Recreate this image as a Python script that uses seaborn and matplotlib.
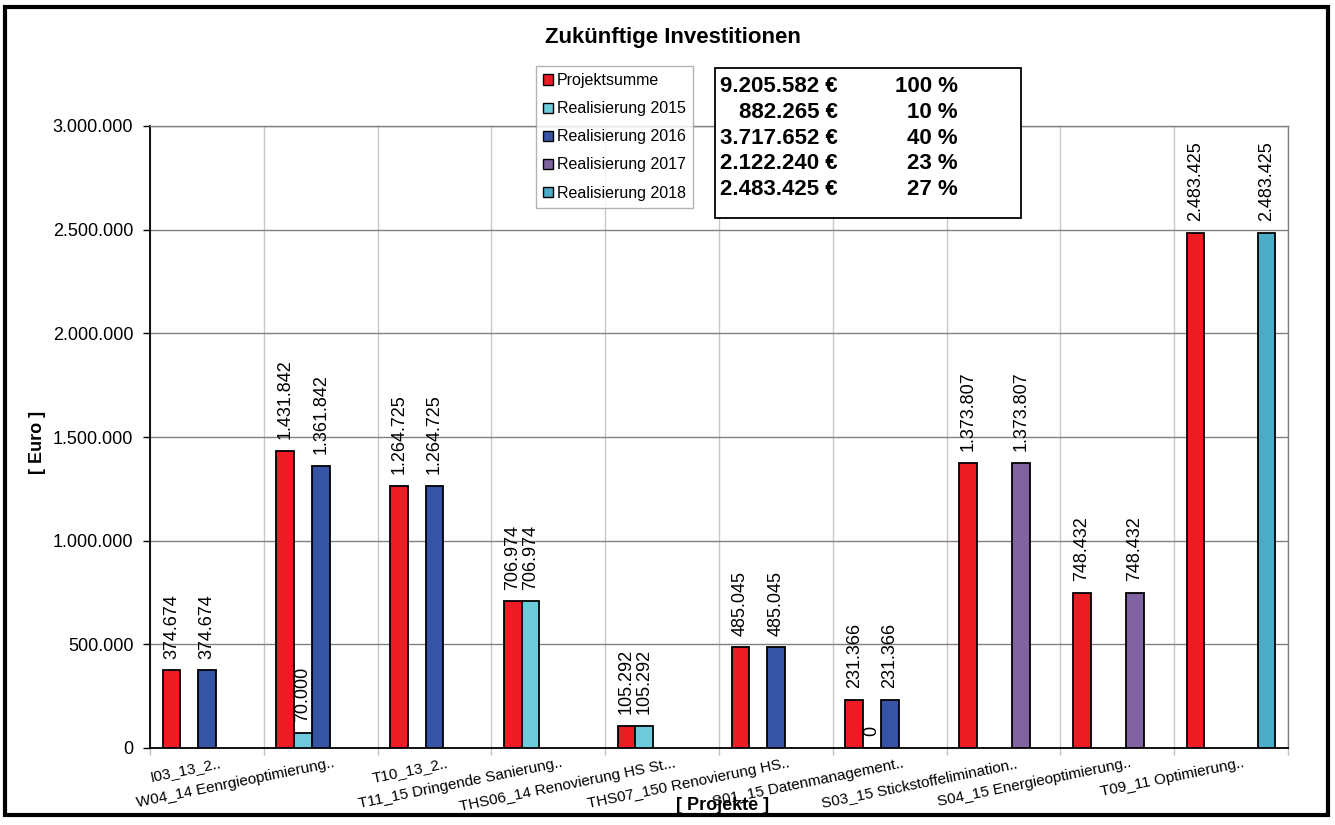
import matplotlib
matplotlib.use("Agg")
import matplotlib.pyplot as plt
import numpy as np
import pandas as pd
import seaborn as sns
from matplotlib.patches import Patch, Rectangle
from matplotlib.transforms import ScaledTranslation

# --- data ---
projects = [
    "I03_13_2..",
    "W04_14 Eenrgieoptimierung..",
    "T10_13_2..",
    "T11_15 Dringende Sanierung..",
    "THS06_14 Renovierung HS St...",
    "THS07_150 Renovierung HS..",
    "S01_15 Datenmanagement..",
    "S03_15 Stickstoffelimination..",
    "S04_15 Energieoptimierung..",
    "T09_11 Optimierung..",
]
series = [
    "Projektsumme",
    "Realisierung 2015",
    "Realisierung 2016",
    "Realisierung 2017",
    "Realisierung 2018",
]
nan = np.nan
projektsumme = [374674, 1431842, 1264725, 706974, 105292, 485045, 231366, 1373807, 748432, 2483425]
real_2015 = [nan, 70000, nan, 706974, 105292, nan, 0, nan, nan, nan]
real_2016 = [374674, 1361842, 1264725, nan, nan, 485045, 231366, nan, nan, nan]
real_2017 = [nan, nan, nan, nan, nan, nan, nan, 1373807, 748432, nan]
real_2018 = [nan, nan, nan, nan, nan, nan, nan, nan, nan, 2483425]

summary_amounts = [9205582, 882265, 3717652, 2122240, 2483425]
summary_shares = [100, 10, 40, 23, 27]

colors = {
    "Projektsumme": "#ED1C24",
    "Realisierung 2015": "#6ECBDB",
    "Realisierung 2016": "#3654A5",
    "Realisierung 2017": "#8064A2",
    "Realisierung 2018": "#4BACC6",
}


def de_fmt(v: float) -> str:
    """German thousands separator."""
    return f"{v:,.0f}".replace(",", ".")


values = [projektsumme, real_2015, real_2016, real_2017, real_2018]
rows = []
for name, vals in zip(series, values):
    for proj, v in zip(projects, vals):
        rows.append({"Projekt": proj, "Serie": name, "Euro": v})
df = pd.DataFrame(rows).dropna()

sns.set_theme(style="white")
plt.rcParams["font.family"] = ["Liberation Sans", "DejaVu Sans"]
plt.rcParams["text.color"] = "black"
plt.rcParams["axes.labelcolor"] = "black"
plt.rcParams["xtick.color"] = "black"
plt.rcParams["ytick.color"] = "black"

fig = plt.figure(figsize=(13.35, 8.25), dpi=100)
ax = fig.add_axes([150 / 1335, 77 / 825, 1138 / 1335, 622 / 825])

sns.barplot(
    data=df, x="Projekt", y="Euro", hue="Serie",
    order=projects, hue_order=series, palette=colors,
    width=0.78, saturation=1, errorbar=None,
    edgecolor="black", linewidth=1.3, legend=False, ax=ax, zorder=3,
)

for cont in ax.containers:
    ax.bar_label(
        cont, labels=[de_fmt(b.get_height()) for b in cont],
        rotation=90, padding=8.5, fontsize=13, color="black",
    )

ax.set_xlim(-0.5, len(projects) - 0.5)
ax.set_ylim(0, 3_000_000)
yt = np.arange(0, 3_000_001, 500_000)
ax.set_yticks(yt)
ax.set_yticklabels([de_fmt(v) for v in yt], fontsize=13, color="black")
ax.tick_params(axis="y", length=5, width=1, color="black", direction="out", pad=7, left=True)

ax.set_xticks(range(len(projects)))
ax.set_xticklabels(projects, fontsize=11, rotation=11.5, ha="right",
                   rotation_mode="anchor", color="black")
ax.set_xticks(np.arange(-0.5, len(projects), 1), minor=True)
ax.tick_params(axis="x", which="major", length=0, pad=6)
ax.tick_params(axis="x", which="minor", length=5, color="#BFBFBF", width=1, bottom=True)
shift = ScaledTranslation(12 / 100, 0, fig.dpi_scale_trans)
for lab in ax.get_xticklabels():
    lab.set_transform(lab.get_transform() + shift)

ax.set_axisbelow(True)
ax.grid(axis="y", which="major", color="#808080", lw=1)
ax.grid(axis="x", which="minor", color="#C8C8C8", lw=1)
ax.grid(axis="x", which="major", visible=False)
ax.set_xlabel("")
ax.set_ylabel("")
for side in ("left", "bottom"):
    ax.spines[side].set_color("black")
    ax.spines[side].set_linewidth(1.3)
for side in ("top", "right"):
    ax.spines[side].set_color("#808080")
    ax.spines[side].set_linewidth(1)
    ax.spines[side].set_visible(True)

fig.text(673 / 1335, 1 - 38 / 825, "Zukünftige Investitionen", ha="center", va="center",
         fontsize=16, fontweight="bold", color="black")
fig.text(37 / 1335, 1 - 442 / 825, "[ Euro ]", rotation=90, ha="center", va="center",
         fontsize=13, fontweight="bold", color="black")
fig.text(723 / 1335, 1 - 805 / 825, "[ Projekte ]", ha="center", va="center",
         fontsize=13, fontweight="bold", color="black")

# legend
handles = [Patch(facecolor=colors[s], edgecolor="black", lw=1) for s in series]
leg = fig.legend(
    handles, series, loc="upper left",
    bbox_to_anchor=(536 / 1335, 1 - 66 / 825),
    fontsize=11.5, frameon=True, fancybox=False, edgecolor="#A0A0A0",
    handlelength=0.6, handleheight=0.6, handletextpad=0.25,
    labelspacing=0.82, borderpad=0.45, borderaxespad=0,
)
leg.get_frame().set_linewidth(1)
for t in leg.get_texts():
    t.set_color("black")

# summary box
fig.add_artist(Rectangle((715 / 1335, 1 - 218 / 825), 306 / 1335, 150 / 825,
                         transform=fig.transFigure, facecolor="white",
                         edgecolor="black", lw=1.3, zorder=5))
for i, (amt, share) in enumerate(zip(summary_amounts, summary_shares)):
    y = 1 - (87 + i * 25.6) / 825
    fig.text(838 / 1335, y, f"{de_fmt(amt)} €", ha="right", va="center",
             fontsize=16, fontweight="bold", color="black", zorder=6)
    fig.text(958 / 1335, y, f"{share} %", ha="right", va="center",
             fontsize=16, fontweight="bold", color="black", zorder=6)

# outer frame
fig.add_artist(Rectangle((5 / 1335, 10 / 825), 1323 / 1335, 808 / 825,
                         transform=fig.transFigure, fill=False,
                         edgecolor="black", lw=3))

fig.savefig("out.png", dpi=100)
